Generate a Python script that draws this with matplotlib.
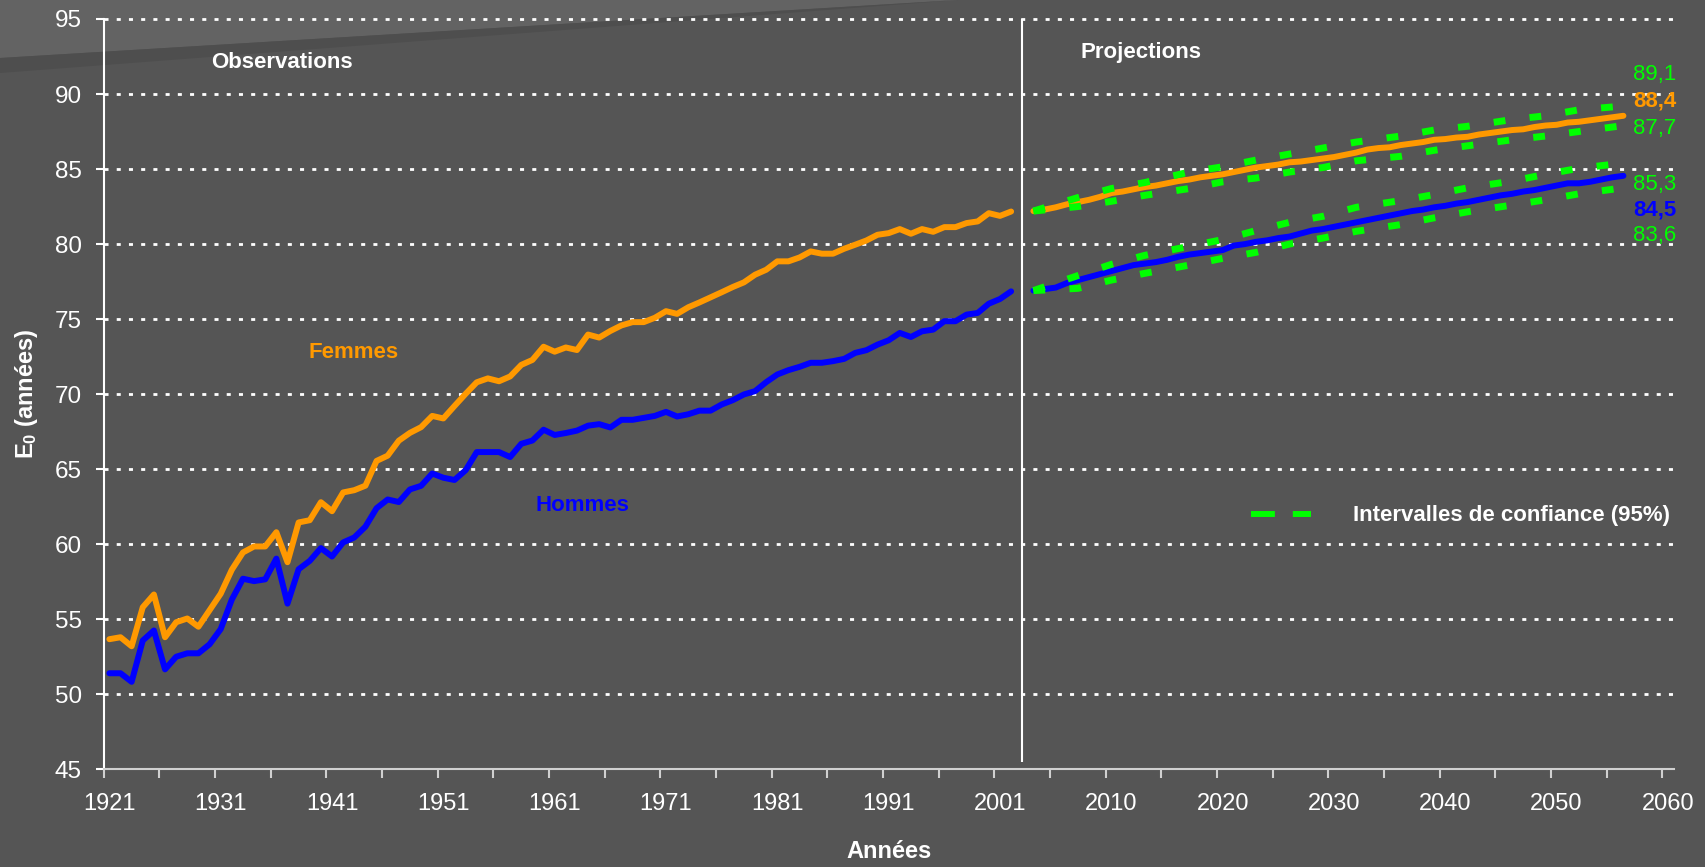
import matplotlib
matplotlib.use("Agg")
import matplotlib.pyplot as plt
from matplotlib.patches import Polygon
from matplotlib.lines import Line2D
import numpy as np

plt.rcParams['font.family'] = ['Liberation Sans', 'DejaVu Sans']
plt.rcParams['mathtext.fontset'] = 'custom'
plt.rcParams['mathtext.bf'] = 'Liberation Sans:bold'
plt.rcParams['mathtext.rm'] = 'Liberation Sans'

# observed life expectancy at birth, 1921-2002
obs_years = np.arange(1921, 2003)
femmes_obs = [53.67, 53.8, 53.2, 55.8, 56.65, 53.8, 54.8, 55.05, 54.5, 55.6,
              56.7, 58.3, 59.45, 59.85, 59.85, 60.8, 58.8, 61.45, 61.6, 62.8,
              62.2, 63.45, 63.6, 63.9, 65.55, 65.9, 66.9, 67.42, 67.8, 68.55,
              68.38, 69.21, 70.02, 70.79, 71.05, 70.86, 71.18, 71.95, 72.28, 73.16,
              72.83, 73.11, 72.94, 73.97, 73.77, 74.21, 74.58, 74.8, 74.8, 75.09,
              75.53, 75.35, 75.79, 76.11, 76.45, 76.79, 77.14, 77.45, 77.96, 78.29,
              78.85, 78.85, 79.11, 79.51, 79.36, 79.36, 79.69, 79.96, 80.24, 80.62,
              80.73, 81.0, 80.69, 81.0, 80.82, 81.13, 81.13, 81.4, 81.51, 82.06,
              81.88, 82.17]
hommes_obs = [51.4, 51.4, 50.83, 53.58, 54.25, 51.66, 52.5, 52.73, 52.73, 53.33,
              54.34, 56.31, 57.7, 57.54, 57.66, 59.04, 56.04, 58.33, 58.89, 59.74,
              59.18, 60.12, 60.45, 61.17, 62.4, 62.98, 62.81, 63.65, 63.89, 64.71,
              64.43, 64.28, 64.93, 66.14, 66.14, 66.14, 65.81, 66.69, 66.91, 67.63,
              67.28, 67.41, 67.57, 67.9, 68.0, 67.78, 68.29, 68.29, 68.42, 68.55,
              68.82, 68.51, 68.66, 68.9, 68.9, 69.31, 69.6, 69.98, 70.2, 70.8,
              71.31, 71.6, 71.82, 72.09, 72.09, 72.2, 72.35, 72.75, 72.93, 73.3,
              73.59, 74.08, 73.81, 74.19, 74.3, 74.86, 74.86, 75.3, 75.41, 76.03,
              76.34, 76.85]

# projections 2003-2056
proj_years = np.arange(2003, 2057)
femmes_proj = [82.2, 82.3, 82.45, 82.65, 82.8, 82.95, 83.15, 83.4, 83.5, 83.65,
               83.8, 83.9, 84.05, 84.2, 84.3, 84.45, 84.55, 84.65, 84.8, 84.95,
               85.1, 85.2, 85.3, 85.45, 85.5, 85.6, 85.7, 85.8, 85.95, 86.1,
               86.3, 86.4, 86.45, 86.6, 86.7, 86.8, 86.95, 87.0, 87.1, 87.15,
               87.3, 87.4, 87.5, 87.6, 87.65, 87.8, 87.9, 87.95, 88.1, 88.15,
               88.25, 88.35, 88.45, 88.55]
hommes_proj = [76.9, 77.0, 77.1, 77.4, 77.6, 77.8, 78.0, 78.2, 78.4, 78.6,
               78.7, 78.8, 78.95, 79.15, 79.3, 79.4, 79.5, 79.6, 79.9, 80.0,
               80.15, 80.25, 80.4, 80.5, 80.7, 80.9, 81.0, 81.15, 81.3, 81.45,
               81.6, 81.75, 81.9, 82.05, 82.2, 82.3, 82.45, 82.55, 82.7, 82.8,
               82.95, 83.1, 83.25, 83.35, 83.5, 83.6, 83.75, 83.9, 84.05, 84.05,
               84.15, 84.3, 84.45, 84.55]

# 95% confidence intervals
ci_years = [2003, 2007, 2010, 2013, 2017, 2020, 2023, 2026, 2029, 2032,
            2036, 2039, 2042, 2046, 2049, 2052, 2056]
femmes_sup = [82.2, 83.1, 83.7, 84.1, 84.8, 85.15, 85.6, 86.0, 86.4, 86.8,
              87.2, 87.6, 87.85, 88.3, 88.55, 88.95, 89.2]
femmes_inf = [82.2, 82.5, 82.85, 83.25, 83.7, 84.15, 84.4, 84.8, 85.1, 85.55,
              85.85, 86.25, 86.55, 86.95, 87.2, 87.5, 87.9]
hommes_sup = [76.9, 77.9, 78.65, 79.25, 79.85, 80.3, 80.9, 81.45, 81.85, 82.45,
              82.9, 83.3, 83.75, 84.2, 84.65, 85.05, 85.4]
hommes_inf = [76.9, 77.05, 77.6, 78.05, 78.6, 79.05, 79.45, 80.0, 80.4, 80.85,
              81.3, 81.75, 82.15, 82.6, 82.95, 83.35, 83.75]

tick_years = [1921, 1931, 1941, 1951, 1961, 1971, 1981, 1991, 2001,
              2010, 2020, 2030, 2040, 2050, 2060]
end_labels = [("89,1", 91.3, '#00ff00', 'normal'),
              ("88,4", 89.55, '#ff9900', 'bold'),
              ("87,7", 87.7, '#00ff00', 'normal'),
              ("85,3", 83.95, '#00ff00', 'normal'),
              ("84,5", 82.27, '#0000ff', 'bold'),
              ("83,6", 80.6, '#00ff00', 'normal')]

ORANGE = '#ff9900'
BLUE = '#0000ff'
GREEN = '#00ff00'
BG = '#555555'


def cat_pos(years):
    # category axis: one empty slot between observations and projections
    years = np.asarray(years)
    return np.where(years <= 2002, years - 1921, years - 1920)


fig = plt.figure(figsize=(17.05, 8.67), dpi=100, facecolor=BG)

# slide background decoration
bg = fig.add_axes([0, 0, 1, 1])
bg.set_xlim(0, 1705)
bg.set_ylim(867, 0)
bg.axis('off')
bg.add_patch(Polygon([(0, 0), (958, 0), (0, 58)], closed=True, color='#636363', lw=0))
bg.add_patch(Polygon([(0, 58), (958, 0), (0, 73)], closed=True, color='#4e4e4e', lw=0))

ax = fig.add_axes([0.06088, 0.11269, 0.92065, 0.86540])
ax.set_facecolor('none')

lw_main = 4.3
line_kw = dict(lw=lw_main, solid_capstyle='round', solid_joinstyle='round', zorder=3)
ax.plot(cat_pos(obs_years), femmes_obs, color=ORANGE, **line_kw)
ax.plot(cat_pos(obs_years), hommes_obs, color=BLUE, **line_kw)
ax.plot(cat_pos(proj_years), femmes_proj, color=ORANGE, **line_kw)
ax.plot(cat_pos(proj_years), hommes_proj, color=BLUE, **line_kw)

for ci in (femmes_sup, femmes_inf, hommes_sup, hommes_inf):
    ax.plot(cat_pos(ci_years), ci, color=GREEN, lw=5,
            linestyle=(0, (1.7, 3.5)), dash_capstyle='butt', zorder=4)

# separation observations / projections
ax.vlines(82, 45.5, 95, color='white', lw=1.5, zorder=2)

ax.set_xlim(-0.5, 140.5)
ax.set_ylim(45, 95)

ax.set_xticks(cat_pos(tick_years))
ax.set_xticklabels([str(y) for y in tick_years])
ax.set_xticks(np.arange(-0.5, 141, 5), minor=True)
ax.tick_params(axis='x', which='major', length=0, pad=17, labelsize=17, labelcolor='white')
ax.tick_params(axis='x', which='minor', length=6.5, width=1.5, color='#d0d0d0', direction='out')

yt = np.arange(45, 96, 5)
ax.set_yticks(yt)
ax.set_yticklabels([str(v) for v in yt])
ax.tick_params(axis='y', length=5.8, width=1.5, color='white', pad=10,
               labelsize=17.5, labelcolor='white')

ax.yaxis.grid(True, color='white', lw=2, linestyle=(0, (1.45, 2.95)))
gls = ax.get_ygridlines()
gls[0].set_visible(False)
for gl in gls:
    gl.set_clip_on(False)
ax.set_axisbelow(True)

for side in ('top', 'right'):
    ax.spines[side].set_visible(False)
ax.spines['left'].set_color('white')
ax.spines['left'].set_linewidth(1.5)
ax.spines['bottom'].set_color('#d0d0d0')
ax.spines['bottom'].set_linewidth(1.5)

fig.text(889 / 1705, 1 - 852 / 867, "Années", ha='center', va='center',
         fontsize=17, fontweight='bold', color='white')
fig.text(27 / 1705, 1 - 394 / 867, r"$\mathbf{E_0}$ (années)", ha='center', va='center',
         rotation=90, fontsize=17, fontweight='bold', color='white')

ax.text(15.5, 92.07, "Observations", ha='center', va='center', fontsize=16,
        fontweight='bold', color='white')
ax.text(92.7, 92.8, "Projections", ha='center', va='center', fontsize=16,
        fontweight='bold', color='white')
ax.text(21.9, 72.8, "Femmes", ha='center', va='center', fontsize=16,
        fontweight='bold', color=ORANGE)
ax.text(42.5, 62.6, "Hommes", ha='center', va='center', fontsize=16,
        fontweight='bold', color=BLUE)

for txt, yv, col, wt in end_labels:
    ax.text(138.8, yv, txt, ha='center', va='center', fontsize=16,
            fontweight=wt, color=col)

handle = Line2D([], [], color=GREEN, lw=4.3, linestyle=(0, (4, 3)), dash_capstyle='butt')
ax.legend([handle], ["Intervalles de confiance (95%)"], loc='center left',
          bbox_to_anchor=(0.7308, 0.3376), frameon=False, borderpad=0,
          borderaxespad=0, handlelength=2.7, handletextpad=1.9,
          prop={'size': 16, 'weight': 'bold'}, labelcolor='white')

fig.savefig("out.png", dpi=100, facecolor=BG)
